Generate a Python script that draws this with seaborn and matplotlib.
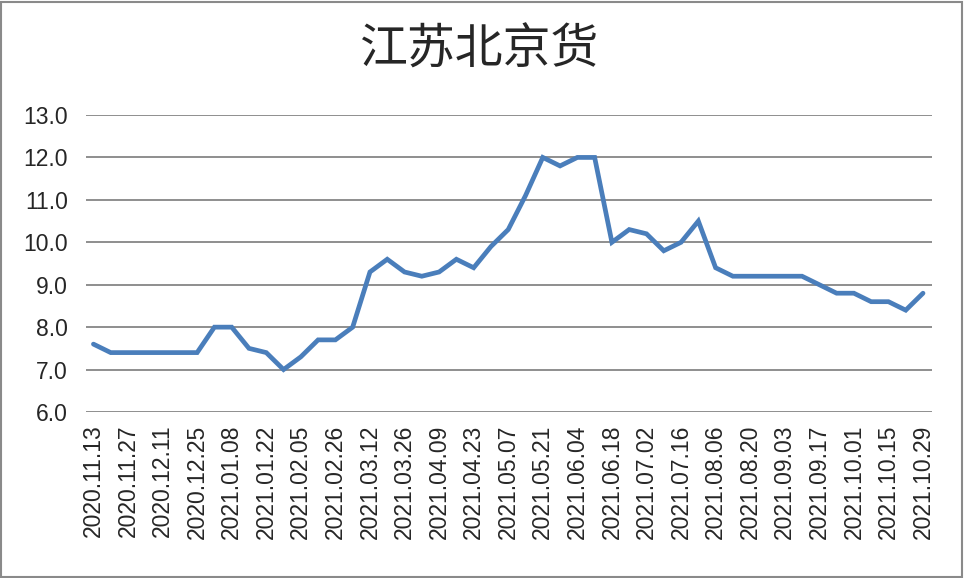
import matplotlib
matplotlib.use('Agg')
import matplotlib.pyplot as plt
import seaborn as sns
import pandas as pd
from matplotlib.patches import Rectangle

# weekly dates (two holiday weeks missing)
dates = [
    "2020.11.13", "2020.11.20", "2020.11.27", "2020.12.04", "2020.12.11", "2020.12.18",
    "2020.12.25", "2021.01.01", "2021.01.08", "2021.01.15", "2021.01.22", "2021.01.29",
    "2021.02.05", "2021.02.19", "2021.02.26", "2021.03.05", "2021.03.12", "2021.03.19",
    "2021.03.26", "2021.04.02", "2021.04.09", "2021.04.16", "2021.04.23", "2021.04.30",
    "2021.05.07", "2021.05.14", "2021.05.21", "2021.05.28", "2021.06.04", "2021.06.11",
    "2021.06.18", "2021.06.25", "2021.07.02", "2021.07.09", "2021.07.16", "2021.07.23",
    "2021.08.06", "2021.08.13", "2021.08.20", "2021.08.27", "2021.09.03", "2021.09.10",
    "2021.09.17", "2021.09.24", "2021.10.01", "2021.10.08", "2021.10.15", "2021.10.22",
    "2021.10.29",
]
prices = [
    7.6, 7.4, 7.4, 7.4, 7.4, 7.4, 7.4, 8.0, 8.0, 7.5, 7.4, 7.0, 7.3, 7.7, 7.7, 8.0,
    9.3, 9.6, 9.3, 9.2, 9.3, 9.6, 9.4, 9.9, 10.3, 11.1, 12.0, 11.8, 12.0, 12.0,
    10.0, 10.3, 10.2, 9.8, 10.0, 10.5, 9.4, 9.2, 9.2, 9.2, 9.2, 9.2, 9.0, 8.8, 8.8,
    8.6, 8.6, 8.4, 8.8,
]
y_ticks = [6.0, 7.0, 8.0, 9.0, 10.0, 11.0, 12.0, 13.0]
title = "江苏北京货"

df = pd.DataFrame({"date": dates, "price": prices})

sns.set_style("white")
plt.rcParams['font.family'] = ['Liberation Sans', 'Noto Sans CJK SC', 'DejaVu Sans']

fig = plt.figure(figsize=(9.64, 5.78), dpi=100)
ax = fig.add_axes([86 / 964, 1 - 412 / 578, (932 - 86) / 964, (412 - 115) / 578])

ax.set_yticks(y_ticks)
ax.yaxis.grid(True, color="#868686", linewidth=1.3)
ax.set_axisbelow(True)

sns.lineplot(data=df, x="date", y="price", ax=ax, color="#4A7EBB", linewidth=3.4,
             sort=False, solid_joinstyle="miter")

ax.set_ylim(6.0, 13.0)
ax.set_xlim(-0.43, len(dates) - 1 + 0.52)
ax.set_xticks(range(0, len(dates), 2))
ax.set_xticklabels(dates[::2], rotation=90, fontsize=16.5)
ax.set_yticklabels([f"{v:.1f}" for v in y_ticks], fontsize=16.5)
ax.tick_params(axis="y", length=0, pad=13)
ax.tick_params(axis="x", length=0, pad=9)
ax.set_xlabel("")
ax.set_ylabel("")
for s in ax.spines.values():
    s.set_visible(False)

fig.text(480 / 964, 1 - 50 / 578, title, ha="center", va="center", fontsize=34.5,
         family=['Noto Sans CJK SC', 'DejaVu Sans'])

# chart outer border
fig.patches.append(Rectangle((0.001, 0.002), 0.997, 0.995, transform=fig.transFigure,
                             fill=False, edgecolor="#8a8a8a", linewidth=1.5))

fig.savefig("out.png", dpi=100)
